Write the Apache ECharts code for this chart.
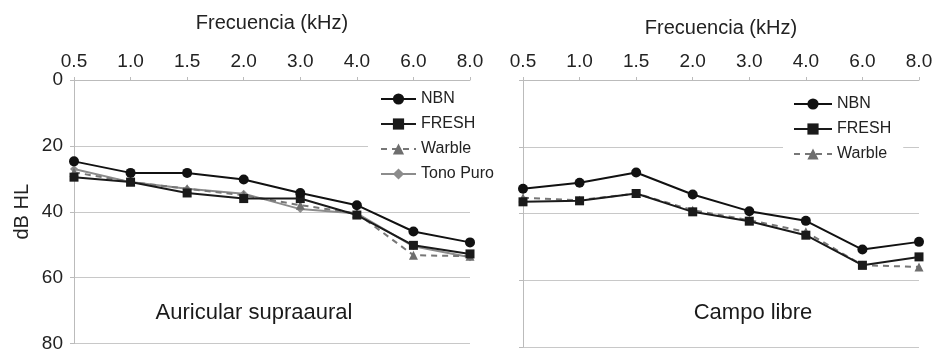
<!DOCTYPE html>
<html>
<head>
<meta charset="utf-8">
<script src="https://cdn.jsdelivr.net/npm/echarts@6/dist/echarts.min.js"></script>
<style>
html,body{margin:0;padding:0;background:#fff;}
#chart{width:936px;height:353px;}
</style>
</head>
<body>
<div id="chart"></div>
<script>
// Categories (kHz)
const freqs = ['0.5','1.0','1.5','2.0','3.0','4.0','6.0','8.0'];
const yTicks = [0,20,40,60,80];

// Left panel: Auricular supraaural (dB HL)
const leftNBN   = [24.7, 28.2, 28.2, 30.2, 34.3, 38.0, 46.0, 49.3];
const leftFRESH = [29.5, 31.0, 34.3, 36.0, 36.0, 41.0, 50.2, 52.8];
const leftWarble= [28.0, 31.0, 33.0, 35.0, 38.0, 40.5, 53.2, 53.5];
const leftTono  = [27.0, 31.0, 33.0, 34.5, 39.2, 40.5, 50.5, 53.8];

// Right panel: Campo libre (dB HL)
const rightNBN   = [32.6, 30.8, 27.7, 34.3, 39.3, 42.2, 50.8, 48.5];
const rightFRESH = [36.5, 36.2, 34.0, 39.5, 42.3, 46.5, 55.5, 53.0];
const rightWarble= [35.3, 36.0, 34.0, 39.0, 42.0, 45.5, 55.5, 56.0];

const FONT = 'Liberation Sans, Arial, sans-serif';
const chart = echarts.init(document.getElementById('chart'));

function xAxis(gi, gap){
  return {
    type:'category', gridIndex:gi, data:freqs, position:'top', boundaryGap:false,
    name:'Frecuencia (kHz)', nameLocation:'middle', nameGap:gap,
    nameTextStyle:{fontSize:20, color:'#222', fontFamily:FONT},
    axisLine:{show:true, lineStyle:{color:'#bbb', width:1}},
    axisTick:{show:true, length:3, lineStyle:{color:'#bbb'}},
    axisLabel:{fontSize:19, color:'#222', fontFamily:FONT, margin:9},
    splitLine:{show:false}
  };
}
function yAxis(gi, labels){
  return {
    type:'value', gridIndex:gi, inverse:true, min:0, max:80, interval:20,
    name: labels ? 'dB HL' : '', nameLocation:'middle', nameGap:42,
    nameTextStyle:{fontSize:20, color:'#222', fontFamily:FONT},
    axisLine:{show:true, lineStyle:{color:'#bbb'}},
    axisTick:{show:true, length:4, lineStyle:{color:'#bbb'}},
    axisLabel:{show:labels, fontSize:19, color:'#222', fontFamily:FONT, margin:11,
      formatter:function(v){ return yTicks.indexOf(v)>=0 ? String(v) : ''; }},
    splitLine:{show:true, lineStyle:{color:'#c8c8c8', width:1}}
  };
}
function s(name, gi, data, kind){
  const base = {name:name, type:'line', xAxisIndex:gi, yAxisIndex:gi, data:data, animation:false,
    showAllSymbol:true};
  if(kind==='nbn') return Object.assign(base,{symbol:'circle', symbolSize:10, z:6,
    itemStyle:{color:'#111'}, lineStyle:{color:'#111', width:2}});
  if(kind==='fresh') return Object.assign(base,{symbol:'rect', symbolSize:9, z:5,
    itemStyle:{color:'#1a1a1a'}, lineStyle:{color:'#1a1a1a', width:2}});
  if(kind==='warble') return Object.assign(base,{symbol:'triangle', symbolSize:9, z:4,
    itemStyle:{color:'#6e6e6e'}, lineStyle:{color:'#777', width:2, type:[6,5]}});
  return Object.assign(base,{symbol:'diamond', symbolSize:8, z:3,
    itemStyle:{color:'#8c8c8c'}, lineStyle:{color:'#8c8c8c', width:2}});
}

chart.setOption({
  backgroundColor:'#fff',
  animation:false,
  grid:[
    {left:74, right:466, top:80, height:267},
    {left:523, right:17, top:80, height:267}
  ],
  xAxis:[xAxis(0,47), xAxis(1,42)],
  yAxis:[yAxis(0,true), yAxis(1,false)],
  legend:[
    {orient:'vertical', left:368, top:86, itemWidth:35, itemHeight:14, itemGap:9,
     padding:[5,12,5,12], backgroundColor:'#fff',
     textStyle:{fontSize:16, color:'#222', fontFamily:FONT},
     data:['NBN','FRESH','Warble','Tono Puro']},
    {orient:'vertical', left:783, top:91, itemWidth:38, itemHeight:14, itemGap:9,
     padding:[5,12,5,10], backgroundColor:'#fff',
     textStyle:{fontSize:16, color:'#222', fontFamily:FONT},
     data:['NBN','FRESH','Warble']}
  ],
  series:[
    s('Tono Puro',0,leftTono,'tono'),
    s('Warble',0,leftWarble,'warble'),
    s('FRESH',0,leftFRESH,'fresh'),
    s('NBN',0,leftNBN,'nbn'),
    s('Warble',1,rightWarble,'warble'),
    s('FRESH',1,rightFRESH,'fresh'),
    s('NBN',1,rightNBN,'nbn')
  ],
  graphic:[
    {type:'text', x:254, y:313, style:{text:'Auricular supraaural', fontSize:22, fill:'#1a1a1a',
      fontFamily:FONT, textAlign:'center', textVerticalAlign:'middle'}},
    {type:'text', x:753, y:313, style:{text:'Campo libre', fontSize:22, fill:'#1a1a1a',
      fontFamily:FONT, textAlign:'center', textVerticalAlign:'middle'}}
  ]
});
</script>
</body>
</html>
